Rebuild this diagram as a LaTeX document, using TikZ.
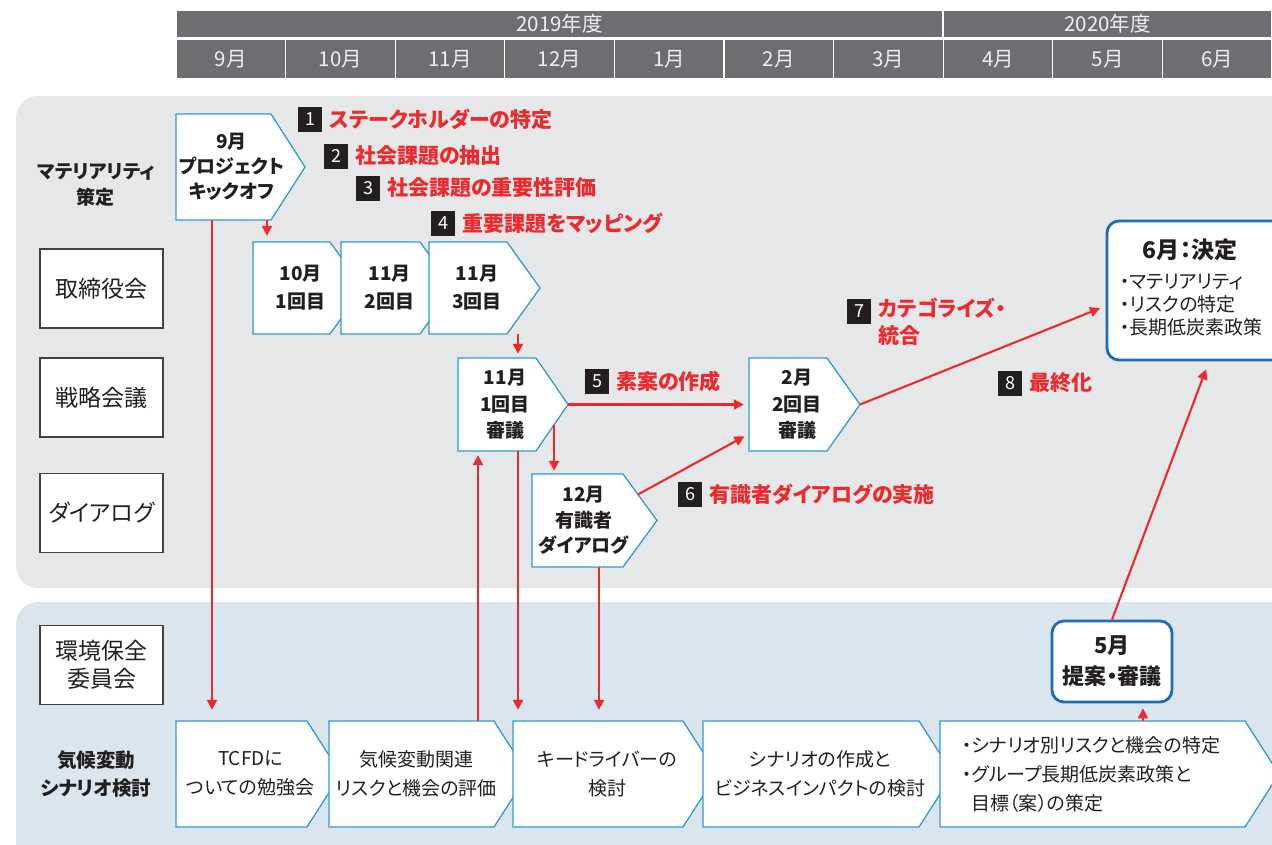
\documentclass[tikz,border=0pt]{standalone}
\usepackage{fontspec}
\setmainfont[RawFeature=+palt]{Noto Sans CJK JP}
\usetikzlibrary{arrows.meta,calc}
\definecolor{hdr}{HTML}{6D6E71}
\definecolor{panelA}{HTML}{E6E7E8}
\definecolor{panelB}{HTML}{DAE5ED}
\definecolor{chevblue}{HTML}{2E9BD6}
\definecolor{boxblue}{HTML}{1B6DB4}
\definecolor{myred}{HTML}{EC2A2D}
\definecolor{txt}{HTML}{231F20}
\newcommand{\fs}[2]{\fontsize{#1}{#2}\selectfont}
\newcommand{\chevron}[9]{%
  \draw[chevline] (#2,#4) -- (#3,#4) -- ({#3+#6},{(#4+#5)/2}) -- (#3,#5) -- (#2,#5) -- cycle;
  \node[inner sep=0, minimum width={(#3-#2)*1pt}, minimum height={(#5-#4)*1pt}] (#1) at ({(#2+#3)/2},{(#4+#5)/2}) {};
  \coordinate (#1-tip) at ({#3+#6},{(#4+#5)/2});
  \node[chevtext, font=#8] (#1-t) at ({(#2+#3)/2+#7},{(#4+#5)/2}) {#9};
}
\newcommand{\rlabel}[5]{%
  \node[numsq] (#1n) at (#2,#3) {#4};
  \node[redlbl] (#1) at ({#2+19},#3) {#5};
}
\begin{document}
\begin{tikzpicture}[x=1pt,y=-1pt,
  chevline/.style={draw=chevblue, line width=1.3pt, fill=white, line join=miter},
  chevtext/.style={align=center, text=txt, inner sep=0},
  lbox/.style={draw=txt!85, line width=1.3pt, fill=white, minimum width=123pt, minimum height=79pt, font=\fs{23}{28}, text=txt, inner sep=0, align=center},
  freelbl/.style={align=center, text=txt, inner sep=0, font=\bfseries\fs{19}{26}},
  hcell/.style={fill=hdr, draw=white, line width=1.2pt, text=white!94!black, font=\fs{20.5}{22}, inner sep=0},
  arr/.style={draw=myred, line width=2.1pt, -{Triangle[length=10pt,width=10pt]}},
  redlbl/.style={text=myred, font=\bfseries\fs{21}{27}, anchor=west, inner sep=0},
  numsq/.style={fill=txt, text=white, minimum width=24pt, minimum height=25pt, inner sep=0, font=\fs{18}{18}},
  fbox/.style={draw=boxblue, line width=2.8pt, fill=white, rounded corners=12pt, inner sep=0, text=txt}
]
\useasboundingbox (0,0) rectangle (1272,844);
\clip (0,0) rectangle (1272,844);
% panels
\fill[panelA, rounded corners=22pt] (16,96) rectangle (1310,588);
\fill[panelB, rounded corners=22pt] (16,602) rectangle (1310,880);
% header
\node[hcell, minimum width=767pt, minimum height=28pt] (y2019) at (559.5,24) {2019年度};
\node[hcell, minimum width=329pt, minimum height=28pt] (y2020) at (1107.5,24) {2020年度};
\foreach \m [count=\i from 0] in {9,10,11,12,1,2,3,4,5,6}
  \node[hcell, minimum width=109.6pt, minimum height=40pt] (mon\m) at ({230.8+\i*109.6},59) {{\m}月};
% left labels
\node[freelbl] (matlbl) at (96,185) {マテリアリティ\\策定};
\node[lbox] (torishimari) at (101.5,288.5) {取締役会};
\node[lbox] (senryaku) at (101.5,397.5) {戦略会議};
\node[lbox] (dialog) at (101.5,513) {ダイアログ};
\node[lbox] (kankyo) at (101.5,665) {環境保全\\委員会};
\node[freelbl, font=\bfseries\fs{19.5}{28}] (climlbl) at (96,774) {気候変動\\シナリオ検討};
% chevrons
\chevron{kick}{176}{271}{114}{220}{34}{8}{\bfseries\fs{19}{25}}{9月\\プロジェクト\\キックオフ}
\chevron{m1}{253}{330}{242}{334}{33}{9}{\bfseries\fs{19}{28}}{10月\\1回目}
\chevron{m2}{341}{420}{242}{334}{33}{9}{\bfseries\fs{19}{28}}{11月\\2回目}
\chevron{m3}{429}{507}{242}{334}{33}{9}{\bfseries\fs{19}{28}}{11月\\3回目}
\chevron{s1}{458}{536}{358}{451}{32}{8}{\bfseries\fs{19}{26.5}}{11月\\1回目\\審議}
\chevron{s2}{749}{827}{358}{451}{33}{9}{\bfseries\fs{19}{26.5}}{2月\\2回目\\審議}
\chevron{d1}{532}{623}{474}{567}{34}{6}{\bfseries\fs{19}{25.5}}{12月\\有識者\\ダイアログ}
\chevron{sc1}{176}{307}{721}{827}{34}{9}{\fs{19}{29}}{TCFDに\\ついての勉強会}
\chevron{sc2}{329}{494}{721}{827}{34}{5}{\fs{19}{29}}{気候変動関連\\リスクと機会の評価}
\chevron{sc3}{513}{683}{721}{827}{34}{9}{\fs{19}{29}}{キードライバーの\\検討}
\chevron{sc4}{703}{919}{721}{827}{34}{9}{\fs{19}{29}}{シナリオの作成と\\ビジネスインパクトの検討}
\chevron{sc5}{940}{1245}{721}{827}{34}{0}{\fs{19}{29}}{}
\node[font=\fs{19}{29}, align=left, anchor=west, text=txt, inner sep=0] (sc5txt) at (962,774) {・シナリオ別リスクと機会の特定\\・グループ長期低炭素政策と\\\hspace*{9pt}目標（案）の策定};
% decision boxes
\node[fbox, minimum width=190pt, minimum height=139pt] (fin) at (1202,290.5) {};
\node[font=\bfseries\fs{23}{26}, text=txt, inner sep=0] (fintitle) at (1190,250) {6月：決定};
\node[font=\fs{19}{23}, align=left, anchor=west, text=txt, inner sep=0] (finlist) at (1120,305) {・マテリアリティ\\・リスクの特定\\・長期低炭素政策};
\node[fbox, minimum width=120pt, minimum height=81pt, align=center, font=\bfseries\fs{22}{31}] (may5) at (1112,661.5) {5月\\提案・審議};
% red labels
\rlabel{l1}{310}{119}{1}{ステークホルダーの特定}
\rlabel{l2}{336}{156}{2}{社会課題の抽出}
\rlabel{l3}{368}{188}{3}{社会課題の重要性評価}
\rlabel{l4}{443}{223}{4}{重要課題をマッピング}
\rlabel{l5}{597}{381}{5}{素案の作成}
\rlabel{l6}{690}{494}{6}{有識者ダイアログの実施}
\node[numsq] (l7n) at (859,311) {7};
\node[redlbl, align=left, anchor=north west] (l7) at (878,298) {カテゴライズ・\\統合};
\rlabel{l8}{1010}{383}{8}{最終化}
% guide coordinates
\coordinate (gx1) at (212,0);
\coordinate (gx2) at (267,0);
\coordinate (gx3) at (518,0);
\coordinate (gx4) at (478,0);
\coordinate (gx5) at (599,0);
\coordinate (gx6) at (1143,0);
\coordinate (a5s) at ($(s1-tip)!0.4375!(s1.south east)$);
\coordinate (a6s) at ($(d1.north east)!0.44!(d1-tip)$);
% connectors
\draw[arr, shorten >=11pt] (kick.south -| gx1) -- (sc1.north -| gx1);
\draw[arr, shorten >=6pt] (kick.south -| gx2) -- (m1.north -| gx2);
\draw[arr, shorten >=4pt] (m3.south -| gx3) -- (s1.north -| gx3);
\draw[arr, shorten >=5pt] (s1-tip) -- (s2.west);
\draw[arr, shorten >=3pt] (a5s) -- (a5s |- d1.north);
\draw[arr, shorten >=5pt] (a6s) -- ([yshift=-29.5pt]s2.west);
\draw[arr, shorten >=6pt] (s2-tip) -- ([yshift=-15.5pt]fin.west);
\draw[arr, shorten >=8.5pt] (may5.north) -- ([xshift=7pt]fin.south);
\draw[arr, shorten >=5pt] (sc5.north -| gx6) -- (may5.south -| gx6);
\draw[arr, shorten >=4pt] (sc2.north -| gx4) -- (s1.south -| gx4);
\draw[arr, shorten >=11pt] (s1.south -| gx3) -- (sc3.north -| gx3);
\draw[arr, shorten >=11pt] (d1.south -| gx5) -- (sc3.north -| gx5);
\end{tikzpicture}
\end{document}
